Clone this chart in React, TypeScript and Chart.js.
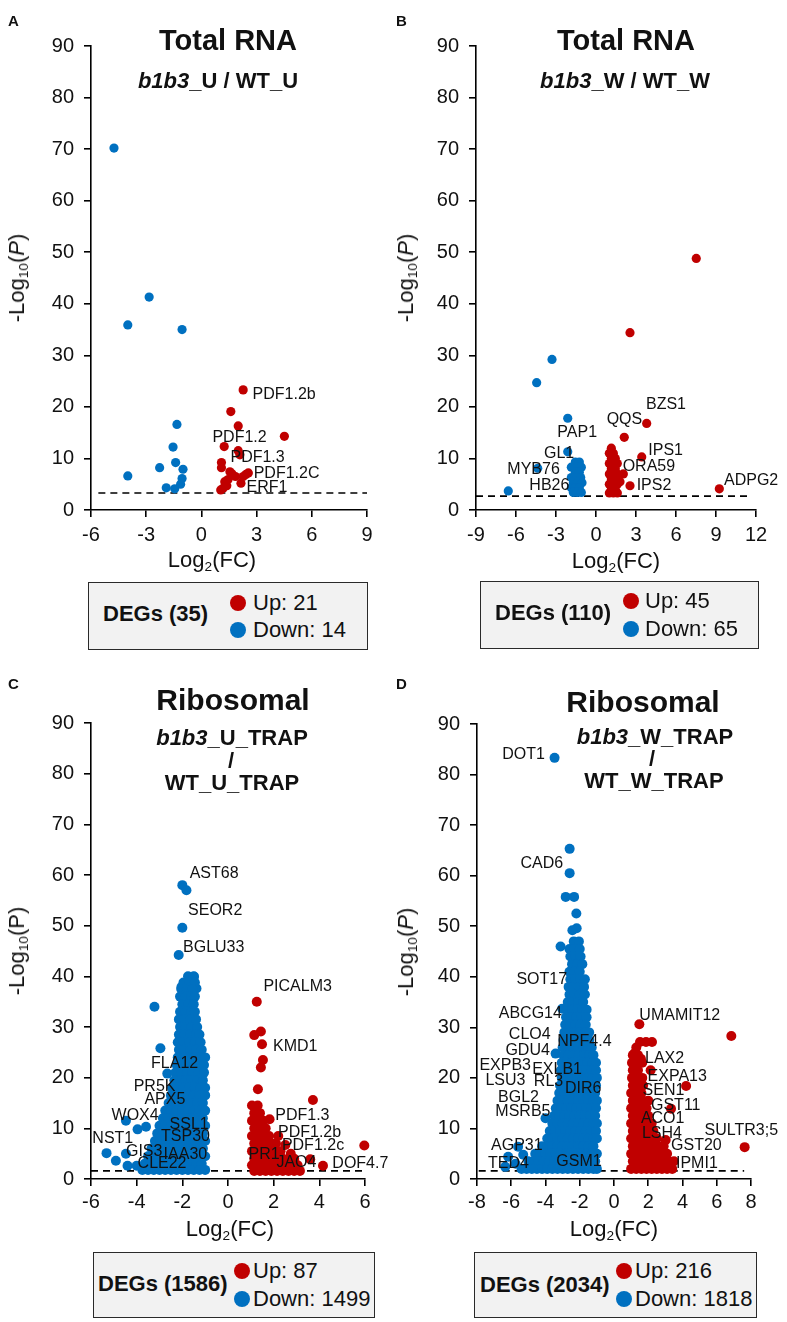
import React, { useEffect, useRef } from "react";
import { Chart, registerables } from "chart.js";

Chart.register(...registerables);

type Pt = [number, number];
type Row = number[]; // [y, x1, x2, ...]
type Lab = [string, number, number];

const FONT = '"Liberation Sans", Arial, Helvetica, sans-serif';
const RED = "#C00000";
const BLUE = "#0070C0";
const INK = "#111111";

// ---------------- Panel A : Total RNA, b1b3_U / WT_U ----------------
const aDown: Pt[] = [
  [-4.75, 70.2], [-2.84, 41.3], [-4.0, 35.9], [-1.05, 35.0], [-1.33, 16.6], [-1.54, 12.2], [-1.4, 9.2],
  [-2.27, 8.2], [-1.0, 7.9], [-1.05, 6.1], [-1.13, 5.0], [-4.0, 6.6], [-1.91, 4.3], [-1.45, 4.1],
];
const aUp: Pt[] = [
  [2.27, 23.3], [1.6, 19.1], [2.0, 16.3], [4.51, 14.3], [1.24, 12.3], [2.0, 11.5], [2.09, 10.7], [1.09, 9.2],
  [1.09, 8.2], [2.55, 7.2], [2.27, 6.5], [1.67, 7.0], [1.45, 5.9], [1.27, 5.5], [2.15, 5.2], [1.18, 4.2],
  [1.05, 3.9], [1.85, 6.5], [2.42, 6.9], [1.38, 4.7], [1.55, 7.4],
];
const aLabels: Lab[] = [
  ["PDF1.2b", 2.78, 22.3], ["PDF1.2", 0.6, 14.1], ["PDF1.3", 1.58, 10.1], ["PDF1.2C", 2.84, 7.0], ["ERF1", 2.45, 4.3],
];
const aXTicks = { min: -6, max: 9, step: 3 };
const aThreshold = { y: 3.3, from: -5.6, to: 9 };

// ---------------- Panel B : Total RNA, b1b3_W / WT_W ----------------
const bDownPts: Pt[] = [[-3.3, 29.2], [-4.45, 24.7], [-2.12, 17.8], [-2.12, 11.3], [-6.58, 3.7], [-4.37, 8.1]];
const bDownRows: Row[] = [
  [9.3, -1.55, -1.25], [8.3, -1.85, -1.4, -1.1], [7.3, -1.55, -1.25], [6.3, -1.85, -1.45, -1.15],
  [5.3, -1.7, -1.4, -1.05], [4.3, -1.85, -1.55, -1.25], [3.4, -1.7, -1.4, -1.1],
];
const bUpPts: Pt[] = [[7.52, 48.8], [2.55, 34.4], [3.8, 16.8], [2.12, 14.1], [3.43, 10.3], [9.25, 4.1], [2.55, 4.7], [2.05, 7.0], [1.8, 5.5]];
const bUpRows: Row[] = [
  [12, 1.15], [11, 1.0, 1.3], [10, 1.15, 1.45], [9, 1.0, 1.3, 1.6], [8, 1.15, 1.45], [7, 1.0, 1.3, 1.6],
  [6, 1.15, 1.45], [5, 1.0, 1.3, 1.6], [4, 1.15, 1.45], [3.3, 1.0, 1.3, 1.6],
];
const bLabels: Lab[] = [
  ["BZS1", 3.75, 20.5], ["QQS", 0.8, 17.6], ["PAP1", -2.9, 15.0], ["IPS1", 3.92, 11.6], ["GL1", -3.9, 10.9],
  ["MYB76", -6.65, 7.9], ["ORA59", 2.0, 8.4], ["HB26", -5.0, 4.8], ["IPS2", 3.05, 4.8], ["ADPG2", 9.6, 5.8],
];
const bXTicks = { min: -9, max: 12, step: 3 };
const bThreshold = { y: 2.7, from: -9, to: 11.6 };

// ---------------- Panel C : Ribosomal, b1b3_U_TRAP / WT_U_TRAP ----------------
const cDownPts: Pt[] = [
  [-2.0, 58.0], [-1.82, 57.0], [-2.0, 49.6], [-2.16, 44.2], [-1.68, 39.6], [-1.49, 39.9], [-1.38, 37.6],
  [-2.04, 37.9], [-3.22, 34.0], [-2.96, 25.8], [-2.66, 20.8], [-4.47, 11.5], [-3.96, 9.8], [-3.59, 10.3],
  [-5.32, 5.1], [-4.91, 3.6], [-4.47, 5.0], [-4.4, 2.6], [-4.0, 2.6],
];
const cDownRows: Row[] = [
  [40, -1.75, -1.5],
  [38.8, -1.95, -1.7, -1.45],
  [37.5, -2.05, -1.8, -1.55],
  [36, -2.1, -1.85, -1.6, -1.45],
  [34.5, -2.0, -1.75, -1.5],
  [33, -2.1, -1.85, -1.6, -1.45],
  [31.5, -2.15, -1.9, -1.65, -1.4],
  [30, -2.1, -1.85, -1.6, -1.35],
  [28.5, -2.15, -1.9, -1.65, -1.4, -1.25],
  [27, -2.2, -1.95, -1.7, -1.45, -1.2],
  [25.5, -2.15, -1.9, -1.65, -1.4, -1.15],
  [24, -2.2, -1.95, -1.7, -1.45, -1.2, -1.0],
  [22.5, -2.25, -2.0, -1.75, -1.5, -1.25, -1.05],
  [21, -2.3, -2.05, -1.8, -1.55, -1.3, -1.05],
  [19.5, -2.35, -2.1, -1.85, -1.6, -1.35, -1.1],
  [18, -2.45, -2.2, -1.95, -1.7, -1.45, -1.2, -1.0],
  [16.5, -2.5, -2.25, -2.0, -1.75, -1.5, -1.25, -1.0],
  [15, -2.6, -2.35, -2.1, -1.85, -1.6, -1.35, -1.1],
  [13.5, -2.75, -2.5, -2.25, -2.0, -1.75, -1.5, -1.25, -1.0],
  [12, -2.85, -2.6, -2.35, -2.1, -1.85, -1.6, -1.35, -1.1],
  [10.5, -3.0, -2.75, -2.5, -2.25, -2.0, -1.75, -1.5, -1.25, -1.0],
  [9, -3.1, -2.85, -2.6, -2.35, -2.1, -1.85, -1.6, -1.35, -1.1],
  [7.5, -3.2, -2.95, -2.7, -2.45, -2.2, -1.95, -1.7, -1.45, -1.2, -1.0],
  [6, -3.35, -3.1, -2.85, -2.6, -2.35, -2.1, -1.85, -1.6, -1.35, -1.1],
  [4.5, -3.5, -3.25, -3.0, -2.75, -2.5, -2.25, -2.0, -1.75, -1.5, -1.25, -1.0],
  [3, -3.65, -3.4, -3.15, -2.9, -2.65, -2.4, -2.15, -1.9, -1.65, -1.4, -1.15],
  [1.8, -3.75, -3.5, -3.25, -3.0, -2.75, -2.5, -2.25, -2.0, -1.75, -1.5, -1.25, -1.0],
];
const cUpPts: Pt[] = [
  [1.26, 35.0], [1.15, 28.4], [1.44, 29.1], [1.49, 26.6], [1.53, 23.5], [1.44, 22.0], [1.31, 17.7],
  [3.72, 15.6], [1.82, 11.8], [2.2, 8.5], [2.51, 6.7], [3.6, 3.9], [4.16, 2.6], [5.97, 6.6], [2.75, 5.0],
];
const cUpRows: Row[] = [
  [14.5, 1.05, 1.3],
  [13, 1.15, 1.4],
  [11.5, 1.05, 1.3, 1.55],
  [10, 1.15, 1.4, 1.65],
  [8.5, 1.05, 1.3, 1.55, 1.8],
  [7, 1.15, 1.4, 1.65, 1.9, 2.1],
  [5.5, 1.05, 1.3, 1.55, 1.8, 2.05, 2.3],
  [4, 1.15, 1.4, 1.65, 1.9, 2.15, 2.4, 2.65, 2.9],
  [2.7, 1.05, 1.3, 1.55, 1.8, 2.05, 2.3, 2.55, 2.8, 3.05],
  [1.6, 1.15, 1.4, 1.65, 1.9, 2.15, 2.4, 2.65, 2.9, 3.15],
];
const cLabels: Lab[] = [
  ["AST68", -1.68, 60.3], ["SEOR2", -1.75, 52.9], ["BGLU33", -1.97, 45.7], ["PICALM3", 1.55, 38.0],
  ["KMD1", 1.97, 26.2], ["FLA12", -3.37, 22.8], ["PR5K", -4.13, 18.3], ["APX5", -3.66, 15.7],
  ["WOX4", -5.1, 12.6], ["SSL1", -2.56, 10.8], ["PDF1.3", 2.07, 12.6], ["NST1", -5.94, 8.0],
  ["TSP30", -2.93, 8.3], ["PDF1.2b", 2.19, 9.1], ["PDF1.2c", 2.36, 6.5], ["GIS3", -4.47, 5.4],
  ["IAA30", -2.82, 4.9], ["PR1", 0.9, 4.9], ["JAO4", 2.12, 3.3], ["DOF4.7", 4.57, 3.0], ["CLE22", -3.96, 3.0],
];
const cXTicks = { min: -6, max: 6, step: 2 };
const cThreshold = { y: 1.6, from: -6, to: 6 };

// ---------------- Panel D : Ribosomal, b1b3_W_TRAP / WT_W_TRAP ----------------
const dDownPts: Pt[] = [
  [-3.47, 83.3], [-2.59, 65.3], [-2.59, 60.5], [-2.82, 55.8], [-2.33, 55.8], [-2.2, 52.5], [-2.43, 49.2],
  [-2.18, 49.6], [-3.12, 46.0], [-3.02, 33.7], [-3.41, 24.8], [-4.0, 12.0], [-5.6, 6.4], [-6.18, 4.4],
  [-5.75, 3.0], [-5.3, 4.8], [-6.35, 2.4],
];
const dDownRows: Row[] = [
  [47, -2.35, -2.05],
  [45.5, -2.6, -2.3, -2.0],
  [44, -2.55, -2.25, -1.95],
  [42.5, -2.45, -2.15, -1.85],
  [41, -2.6, -2.3, -2.0],
  [39.5, -2.55, -2.25, -1.95, -1.7],
  [38, -2.65, -2.35, -2.05, -1.75],
  [36.5, -2.6, -2.3, -2.0, -1.7],
  [35, -2.7, -2.4, -2.1, -1.8],
  [33.5, -2.75, -2.45, -2.15, -1.85, -1.6],
  [32, -2.8, -2.5, -2.2, -1.9, -1.6],
  [30.5, -2.85, -2.55, -2.25, -1.95, -1.65],
  [29, -2.9, -2.6, -2.3, -2.0, -1.7, -1.45],
  [27.5, -2.95, -2.65, -2.35, -2.05, -1.75, -1.45],
  [26, -3.0, -2.7, -2.4, -2.1, -1.8, -1.5, -1.3],
  [24.5, -2.95, -2.65, -2.35, -2.05, -1.75, -1.45, -1.2],
  [23, -3.05, -2.75, -2.45, -2.15, -1.85, -1.55, -1.25, -1.05],
  [21.5, -3.1, -2.8, -2.5, -2.2, -1.9, -1.6, -1.3, -1.05],
  [20, -3.05, -2.75, -2.45, -2.15, -1.85, -1.55, -1.25, -1.0],
  [18.5, -3.15, -2.85, -2.55, -2.25, -1.95, -1.65, -1.35, -1.05],
  [17, -3.2, -2.9, -2.6, -2.3, -2.0, -1.7, -1.4, -1.1],
  [15.5, -3.3, -3.0, -2.7, -2.4, -2.1, -1.8, -1.5, -1.2, -1.0],
  [14, -3.4, -3.1, -2.8, -2.5, -2.2, -1.9, -1.6, -1.3, -1.05],
  [12.5, -3.5, -3.2, -2.9, -2.6, -2.3, -2.0, -1.7, -1.4, -1.1],
  [11, -3.6, -3.3, -3.0, -2.7, -2.4, -2.1, -1.8, -1.5, -1.2, -1.0],
  [9.5, -3.75, -3.45, -3.15, -2.85, -2.55, -2.25, -1.95, -1.65, -1.35, -1.05],
  [8, -3.9, -3.6, -3.3, -3.0, -2.7, -2.4, -2.1, -1.8, -1.5, -1.2, -1.0],
  [6.5, -4.2, -3.9, -3.6, -3.3, -3.0, -2.7, -2.4, -2.1, -1.8, -1.5, -1.2],
  [5, -4.6, -4.3, -4.0, -3.7, -3.4, -3.1, -2.8, -2.5, -2.2, -1.9, -1.6, -1.3, -1.0],
  [3.5, -5.0, -4.7, -4.4, -4.1, -3.8, -3.5, -3.2, -2.9, -2.6, -2.3, -2.0, -1.7, -1.4, -1.1],
  [2, -5.4, -5.1, -4.8, -4.5, -4.2, -3.9, -3.6, -3.3, -3.0, -2.7, -2.4, -2.1, -1.8, -1.5, -1.2, -1.0],
];
const dUpPts: Pt[] = [
  [1.48, 30.6], [6.85, 28.3], [1.52, 27.1], [1.87, 27.1], [2.22, 27.1], [4.21, 18.4], [3.33, 13.9],
  [7.63, 6.3], [1.18, 24.8], [1.57, 23.8], [3.02, 7.7], [2.14, 21.5], [1.3, 26.0],
];
const dUpRows: Row[] = [
  [24.5, 1.1, 1.4],
  [23, 1.05, 1.35, 1.65],
  [21.5, 1.1, 1.4],
  [20, 1.05, 1.35, 1.65],
  [18.5, 1.1, 1.4, 1.7],
  [17, 1.0, 1.3, 1.6],
  [15.5, 1.1, 1.4, 1.7, 2.0],
  [14, 1.0, 1.3, 1.6, 1.9],
  [12.5, 1.1, 1.4, 1.7, 2.0],
  [11, 1.0, 1.3, 1.6, 1.9, 2.2],
  [9.5, 1.1, 1.4, 1.7, 2.0, 2.3],
  [8, 1.0, 1.3, 1.6, 1.9, 2.2, 2.5],
  [6.5, 1.1, 1.4, 1.7, 2.0, 2.3, 2.6, 2.9],
  [5, 1.0, 1.3, 1.6, 1.9, 2.2, 2.5, 2.8, 3.1],
  [3.5, 1.1, 1.4, 1.7, 2.0, 2.3, 2.6, 2.9, 3.2, 3.5],
  [2, 1.0, 1.3, 1.6, 1.9, 2.2, 2.5, 2.8, 3.1, 3.4],
];
const dLabels: Lab[] = [
  ["DOT1", -6.53, 84.0], ["CAD6", -5.46, 62.3], ["SOT17", -5.7, 39.4], ["ABCG14", -6.73, 32.7],
  ["CLO4", -6.14, 28.5], ["NPF4.4", -3.31, 27.1], ["GDU4", -6.34, 25.4], ["EXPB3", -7.86, 22.5],
  ["EXLB1", -4.78, 21.7], ["LSU3", -7.51, 19.5], ["RL3", -4.68, 19.2], ["DIR6", -2.86, 17.9],
  ["BGL2", -6.77, 16.2], ["MSRB5", -6.93, 13.3], ["AGP31", -7.18, 6.7], ["TED4", -7.36, 3.0],
  ["GSM1", -3.37, 3.4], ["UMAMIT12", 1.48, 32.3], ["LAX2", 1.81, 23.8], ["EXPA13", 1.96, 20.3],
  ["SEN1", 1.67, 17.4], ["GST11", 2.16, 14.6], ["ACO1", 1.57, 12.0], ["LSH4", 1.63, 9.0],
  ["SULTR3;5", 5.29, 9.5], ["GST20", 3.33, 6.7], ["IPMI1", 3.62, 3.1],
];
const dXTicks = { min: -8, max: 8, step: 2 };
const dThreshold = { y: 1.6, from: -7.9, to: 7.6 };

const yTicks = { min: 0, max: 90, step: 10 };

// DEG summary counts
const degA = { total: 35, up: 21, down: 14 };
const degB = { total: 110, up: 45, down: 65 };
const degC = { total: 1586, up: 87, down: 1499 };
const degD = { total: 2034, up: 216, down: 1818 };

// ---------------------------------------------------------------------
const toXY = (pts: Pt[]) => pts.map(([x, y]) => ({ x, y }));
const rowsToXY = (rows: Row[]) => rows.flatMap(([y, ...xs]) => xs.map((x) => ({ x, y })));

type PanelProps = {
  left: number; top: number; width: number; height: number;
  pad: { left: number; right: number; top: number; bottom: number };
  xt: { min: number; max: number; step: number };
  up: { x: number; y: number }[];
  down: { x: number; y: number }[];
  labels: Lab[];
  thr: { y: number; from: number; to: number };
  radius: number;
  xPad: number;
};

function Panel(p: PanelProps) {
  const ref = useRef<HTMLCanvasElement>(null);
  useEffect(() => {
    const canvas = ref.current!;
    const labelPlugin = {
      id: "geneLabels",
      afterDatasetsDraw(chart: any) {
        const ctx = chart.ctx;
        const xs = chart.scales.x;
        const ys = chart.scales.y;
        ctx.save();
        ctx.font = `16px ${FONT}`;
        ctx.fillStyle = INK;
        ctx.textAlign = "left";
        ctx.textBaseline = "middle";
        for (const [t, lx, ly] of p.labels) {
          ctx.fillText(t, xs.getPixelForValue(lx), ys.getPixelForValue(ly));
        }
        ctx.restore();
      },
    };
    const axisCommon = {
      grid: { display: true, drawOnChartArea: false, drawTicks: true, tickLength: 7, color: "#000", lineWidth: 1.6 },
      border: { display: true, color: "#000", width: 1.6 },
    };
    const chart = new Chart(canvas, {
      type: "scatter",
      data: {
        datasets: [
          {
            label: "Up",
            data: p.up,
            backgroundColor: RED,
            borderWidth: 0,
            pointRadius: p.radius,
            pointHoverRadius: p.radius,
            clip: false,
            order: 1,
          } as any,
          {
            label: "Down",
            data: p.down,
            backgroundColor: BLUE,
            borderWidth: 0,
            pointRadius: p.radius,
            pointHoverRadius: p.radius,
            clip: false,
            order: 2,
          } as any,
          {
            type: "line",
            label: "threshold",
            data: [{ x: p.thr.from, y: p.thr.y }, { x: p.thr.to, y: p.thr.y }],
            borderColor: "#000",
            borderWidth: 1.6,
            borderDash: [7, 5],
            pointRadius: 0,
            fill: false,
            showLine: true,
            clip: false,
            order: 3,
          } as any,
        ],
      },
      options: {
        responsive: false,
        animation: false,
        devicePixelRatio: 1,
        events: [],
        layout: { padding: p.pad },
        plugins: { legend: { display: false }, tooltip: { enabled: false }, title: { display: false } },
        scales: {
          x: {
            type: "linear",
            min: p.xt.min,
            max: p.xt.max,
            afterFit: (s: any) => { s.height = 40; },
            ticks: { stepSize: p.xt.step, autoSkip: false, color: INK, font: { family: FONT, size: 20 }, padding: p.xPad },
            ...axisCommon,
          },
          y: {
            type: "linear",
            min: yTicks.min,
            max: yTicks.max,
            afterFit: (s: any) => { s.width = 50; },
            ticks: { stepSize: yTicks.step, autoSkip: false, color: INK, font: { family: FONT, size: 20 }, padding: 10 },
            ...axisCommon,
          },
        } as any,
      },
      plugins: [labelPlugin as any],
    });
    return () => chart.destroy();
  }, []);
  return (
    <canvas
      ref={ref}
      width={p.width}
      height={p.height}
      style={{ position: "absolute", left: p.left, top: p.top, width: p.width, height: p.height }}
    />
  );
}

const base: React.CSSProperties = {
  position: "absolute",
  fontFamily: FONT,
  lineHeight: 1,
  whiteSpace: "nowrap",
  color: INK,
};

function TC(props: { x: number; y: number; size: number; bold?: boolean; rot?: boolean; children: React.ReactNode }) {
  return (
    <div
      style={{
        ...base,
        left: props.x,
        top: props.y,
        fontSize: props.size,
        fontWeight: props.bold ? 700 : 400,
        transform: `translate(-50%, -50%)${props.rot ? " rotate(-90deg)" : ""}`,
      }}
    >
      {props.children}
    </div>
  );
}

function TL(props: { x: number; y: number; size: number; bold?: boolean; children: React.ReactNode }) {
  return (
    <div
      style={{
        ...base,
        left: props.x,
        top: props.y,
        fontSize: props.size,
        fontWeight: props.bold ? 700 : 400,
        transform: "translate(0, -50%)",
      }}
    >
      {props.children}
    </div>
  );
}

const Sub = ({ children }: { children: React.ReactNode }) => (
  <span style={{ fontSize: "0.62em", position: "relative", top: "0.32em" }}>{children}</span>
);

const YTitle = ({ x, y, italicP }: { x: number; y: number; italicP: boolean }) => (
  <TC x={x} y={y} size={22} rot>
    -Log<Sub>10</Sub>({italicP ? <i>P</i> : "P"})
  </TC>
);
const XTitle = ({ x, y }: { x: number; y: number }) => (
  <TC x={x} y={y} size={22}>
    Log<Sub>2</Sub>(FC)
  </TC>
);

function Dot({ x, y, c }: { x: number; y: number; c: string }) {
  return (
    <div
      style={{ position: "absolute", left: x - 8, top: y - 8, width: 16, height: 16, borderRadius: "50%", background: c }}
    />
  );
}

function DegBox(props: {
  box: { l: number; t: number; w: number; h: number };
  deg: { total: number; up: number; down: number };
  degX: number; degY: number; dotX: number; upY: number; downY: number; txtX: number;
}) {
  const { box, deg } = props;
  return (
    <>
      <div
        style={{
          position: "absolute",
          left: box.l,
          top: box.t,
          width: box.w,
          height: box.h,
          boxSizing: "border-box",
          background: "#F2F2F2",
          border: "1.6px solid #2a2a2a",
        }}
      />
      <TL x={props.degX} y={props.degY} size={22} bold>{`DEGs (${deg.total})`}</TL>
      <Dot x={props.dotX} y={props.upY} c={RED} />
      <Dot x={props.dotX} y={props.downY} c={BLUE} />
      <TL x={props.txtX} y={props.upY} size={22}>{`Up: ${deg.up}`}</TL>
      <TL x={props.txtX} y={props.downY} size={22}>{`Down: ${deg.down}`}</TL>
    </>
  );
}

export default function App() {
  return (
    <div style={{ position: "absolute", left: 0, top: 0, width: 787, height: 1322, background: "#fff", overflow: "hidden" }}>
      {/* Panel A */}
      <Panel
        left={0} top={0} width={393} height={560}
        pad={{ left: 41, right: 26, top: 46, bottom: 10 }}
        xt={aXTicks} up={toXY(aUp)} down={toXY(aDown)} labels={aLabels} thr={aThreshold} radius={4.6} xPad={6}
      />
      {/* Panel B */}
      <Panel
        left={393} top={0} width={394} height={560}
        pad={{ left: 33, right: 31, top: 46, bottom: 10 }}
        xt={bXTicks} up={[...toXY(bUpPts), ...rowsToXY(bUpRows)]} down={[...toXY(bDownPts), ...rowsToXY(bDownRows)]}
        labels={bLabels} thr={bThreshold} radius={4.6} xPad={6}
      />
      {/* Panel C */}
      <Panel
        left={0} top={640} width={393} height={600}
        pad={{ left: 41, right: 28, top: 83, bottom: 21 }}
        xt={cXTicks} up={[...toXY(cUpPts), ...rowsToXY(cUpRows)]} down={[...toXY(cDownPts), ...rowsToXY(cDownRows)]}
        labels={cLabels} thr={cThreshold} radius={5} xPad={4}
      />
      {/* Panel D */}
      <Panel
        left={393} top={640} width={394} height={600}
        pad={{ left: 34, right: 36, top: 84, bottom: 21 }}
        xt={dXTicks} up={[...toXY(dUpPts), ...rowsToXY(dUpRows)]} down={[...toXY(dDownPts), ...rowsToXY(dDownRows)]}
        labels={dLabels} thr={dThreshold} radius={5} xPad={4}
      />

      {/* Panel letters */}
      <TL x={8} y={20} size={15} bold>A</TL>
      <TL x={396} y={20} size={15} bold>B</TL>
      <TL x={8} y={683} size={15} bold>C</TL>
      <TL x={396} y={683} size={15} bold>D</TL>

      {/* Titles */}
      <TC x={228} y={40} size={29} bold>Total RNA</TC>
      <TC x={218} y={81} size={22} bold><i>b1b3</i>_U / WT_U</TC>
      <TC x={626} y={40} size={29} bold>Total RNA</TC>
      <TC x={625} y={81} size={22} bold><i>b1b3</i>_W / WT_W</TC>

      <TC x={233} y={700} size={30} bold>Ribosomal</TC>
      <TC x={232} y={738} size={22} bold><i>b1b3</i>_U_TRAP</TC>
      <TC x={231} y={761} size={22} bold>/</TC>
      <TC x={232} y={783} size={22} bold>WT_U_TRAP</TC>

      <TC x={643} y={702} size={30} bold>Ribosomal</TC>
      <TC x={655} y={737} size={22} bold><i>b1b3</i>_W_TRAP</TC>
      <TC x={652} y={759} size={22} bold>/</TC>
      <TC x={654} y={781} size={22} bold>WT_W_TRAP</TC>

      {/* Axis titles */}
      <YTitle x={17} y={278} italicP />
      <YTitle x={406} y={278} italicP />
      <YTitle x={17} y={951} italicP={false} />
      <YTitle x={406} y={952} italicP />
      <XTitle x={212} y={560} />
      <XTitle x={616} y={561} />
      <XTitle x={230} y={1229} />
      <XTitle x={614} y={1229} />

      {/* DEG summary boxes */}
      <DegBox box={{ l: 88, t: 582, w: 280, h: 68 }} deg={degA} degX={103} degY={614} dotX={238} upY={603} downY={630} txtX={253} />
      <DegBox box={{ l: 480, t: 581, w: 279, h: 68 }} deg={degB} degX={495} degY={613} dotX={631} upY={601} downY={629} txtX={645} />
      <DegBox box={{ l: 93, t: 1252, w: 282, h: 66 }} deg={degC} degX={98} degY={1284} dotX={242} upY={1271} downY={1299} txtX={253} />
      <DegBox box={{ l: 474, t: 1252, w: 283, h: 66 }} deg={degD} degX={480} degY={1285} dotX={624} upY={1271} downY={1299} txtX={635} />
    </div>
  );
}
